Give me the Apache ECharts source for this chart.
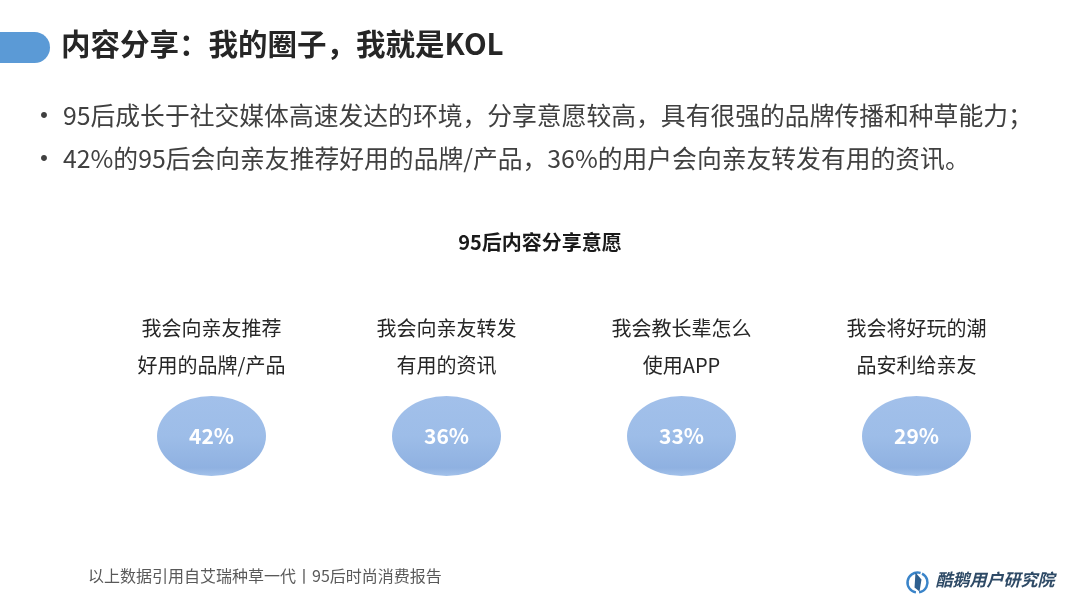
<!DOCTYPE html>
<html>
<head>
<meta charset="utf-8">
<script src="https://cdn.jsdelivr.net/npm/echarts@6/dist/echarts.min.js"></script>
<style>
  html, body { margin: 0; padding: 0; background: #fff; }
  #main { width: 1080px; height: 608px; }
</style>
</head>
<body>
<div id="main"></div>
<script>
// 数据
const categories = ['我会向亲友推荐\n好用的品牌/产品', '我会向亲友转发\n有用的资讯', '我会教长辈怎么\n使用APP', '我会将好玩的潮\n品安利给亲友'];
const shareValues = [42, 36, 33, 29];
const bulletTexts = [
  '95后成长于社交媒体高速发达的环境，分享意愿较高，具有很强的品牌传播和种草能力；',
  '42%的95后会向亲友推荐好用的品牌/产品，36%的用户会向亲友转发有用的资讯。'
];
const pageTitle = '内容分享：我的圈子，我就是KOL';
const chartTitle = '95后内容分享意愿';
const footNote = '以上数据引用自艾瑞种草一代丨95后时尚消费报告';
const logoText = '酷鹅用户研究院';

const FONT = '"Noto Sans CJK SC", "Noto Sans", sans-serif';

var myChart = echarts.init(document.getElementById('main'));

// 每个椭圆放在同一行，数值放在标签里
const scatterData = shareValues.map((v, i) => ({ value: [i, 0], share: v }));

const option = {
  backgroundColor: '#fff',
  textStyle: { fontFamily: FONT },
  title: [
    {
      text: chartTitle,
      left: 'center',
      top: 227,
      textStyle: { fontSize: 20, fontWeight: 'bold', color: '#1a1a1a', fontFamily: FONT }
    }
  ],
  grid: { left: 94, right: 46, top: 396, bottom: 132 },
  xAxis: {
    type: 'category',
    data: categories,
    position: 'top',
    axisLine: { show: false },
    axisTick: { show: false },
    splitLine: { show: false },
    axisLabel: {
      margin: 12,
      fontSize: 20,
      lineHeight: 37,
      color: '#262626',
      fontFamily: FONT
    }
  },
  yAxis: {
    type: 'category',
    data: ['意愿'],
    show: false
  },
  series: [
    {
      type: 'scatter',
      data: scatterData,
      symbol: 'circle',
      symbolSize: [109, 80],
      itemStyle: {
        opacity: 1,
        color: new echarts.graphic.LinearGradient(0, 0, 0, 1, [
          { offset: 0, color: '#a2c0ea' },
          { offset: 0.5, color: '#9dbde8' },
          { offset: 0.9, color: '#8fb1e1' },
          { offset: 1, color: '#a3c2ea' }
        ])
      },
      label: {
        show: true,
        position: 'inside',
        formatter: p => p.data.share + '%',
        fontSize: 21,
        fontWeight: 'bold',
        color: '#fff',
        fontFamily: FONT
      },
      emphasis: { scale: false }
    }
  ],
  graphic: [
    // 标题左侧蓝色标签
    {
      type: 'rect',
      shape: { x: -20, y: 32, width: 70, height: 31, r: [0, 16, 16, 0] },
      style: { fill: '#5b9ad6' }
    },
    {
      type: 'text',
      left: 61,
      top: 29,
      style: { text: pageTitle, fontSize: 29.5, fontWeight: 'bold', fill: '#262626', fontFamily: FONT }
    },
    // 项目符号
    {
      type: 'group',
      left: 30,
      top: 101,
      children: bulletTexts.map((t, i) => ({
        type: 'group',
        y: i * 43,
        children: [
          { type: 'text', x: 0, y: -2, style: { text: '•', fontSize: 28, fill: '#404040', fontFamily: FONT } },
          { type: 'text', x: 33, y: 0, style: { text: t, fontSize: 24.8, fill: '#404040', fontFamily: FONT } }
        ]
      }))
    },
    {
      type: 'text',
      left: 88,
      top: 568,
      style: { text: footNote, fontSize: 16, fill: '#595959', fontFamily: FONT }
    },
    // logo
    {
      type: 'group',
      left: 905,
      top: 570,
      children: [
        { type: 'arc', shape: { cx: 11, cy: 13, r: 10, startAngle: Math.PI * 0.55, endAngle: Math.PI * 1.6 }, style: { stroke: '#3a84c9', lineWidth: 2.5, fill: null } },
        { type: 'arc', shape: { cx: 11, cy: 13, r: 10, startAngle: -Math.PI * 0.35, endAngle: Math.PI * 0.45 }, style: { stroke: '#3a84c9', lineWidth: 2.5, fill: null } },
        { type: 'polygon', shape: { points: [[9, 3], [15, 10], [13, 22], [8, 18]] }, style: { fill: '#2e5f8f' } },
        { type: 'text', x: 29, y: 2, style: { text: logoText, fontSize: 17, fontWeight: 'bold', fontStyle: 'italic', fill: '#2e4a66', fontFamily: FONT } }
      ]
    }
  ]
};

myChart.setOption(option);
</script>
</body>
</html>
